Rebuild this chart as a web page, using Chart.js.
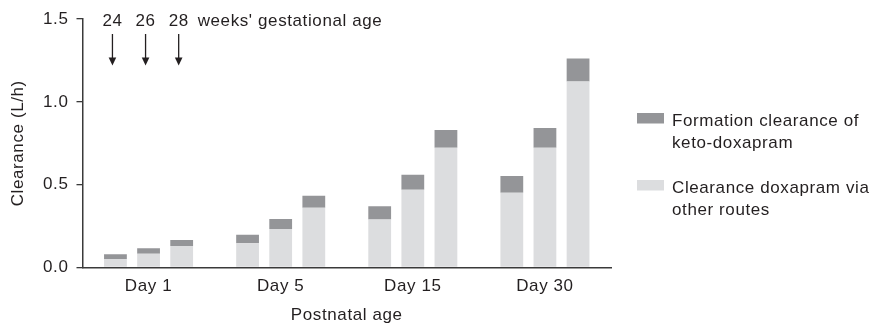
<!DOCTYPE html>
<html>
<head>
<meta charset="utf-8">
<script src="https://cdn.jsdelivr.net/npm/chart.js@4/dist/chart.umd.min.js"></script>
<style>
  html, body { margin: 0; padding: 0; background: #ffffff; }
  #wrap { width: 875px; height: 326px; position: relative; }
</style>
</head>
<body>
<div id="wrap"><canvas id="chart" width="875" height="326"></canvas></div>
<script>
// Postnatal age groups on the x axis, gestational ages within each group
const postnatalDays = ['Day 1', 'Day 5', 'Day 15', 'Day 30'];
const gestationalWeeks = ['24', '26', '28'];

// Clearance of doxapram via other routes (L/h)
const otherRoutes24 = [0.051, 0.146, 0.290, 0.451];
const otherRoutes26 = [0.083, 0.233, 0.469, 0.723];
const otherRoutes28 = [0.130, 0.360, 0.723, 1.122];

// Formation clearance of keto-doxapram (L/h), stacked on top
const ketoFormation24 = [0.029, 0.051, 0.079, 0.101];
const ketoFormation26 = [0.033, 0.060, 0.091, 0.119];
const ketoFormation28 = [0.036, 0.073, 0.107, 0.139];

const yTickValues = [0, 0.5, 1.0, 1.5];
const ketoLegendLines = ['Formation clearance of', 'keto-doxapram'];
const otherLegendLines = ['Clearance doxapram via', 'other routes'];
const gestationCaption = "weeks' gestational age";

const textColor = '#231f20';
const axisColor = '#3a3a3a';
const ketoColor = '#949598';
const otherColor = '#dcdddf';
const fontFamily = '"Liberation Sans", Arial, Helvetica, sans-serif';
const fontSize = 17;
const baseFont = { family: fontFamily, size: fontSize };
const letterSpacing = '0.6px';

Chart.defaults.font.family = fontFamily;
Chart.defaults.font.size = fontSize;
Chart.defaults.color = textColor;

const otherSeries = [otherRoutes24, otherRoutes26, otherRoutes28];
const ketoSeries = [ketoFormation24, ketoFormation26, ketoFormation28];

const datasets = [];
gestationalWeeks.forEach((wk, i) => {
  datasets.push({
    label: otherLegendLines.join(' '),
    data: otherSeries[i],
    stack: wk,
    backgroundColor: otherColor,
    borderWidth: 0
  });
  datasets.push({
    label: ketoLegendLines.join(' '),
    data: ketoSeries[i],
    stack: wk,
    backgroundColor: ketoColor,
    borderWidth: 0
  });
});

// Slightly wider tracking for all canvas text
const spacingPlugin = {
  id: 'spacing',
  beforeLayout(chart) { chart.ctx.letterSpacing = letterSpacing; },
  beforeDraw(chart) { chart.ctx.letterSpacing = letterSpacing; }
};

// Two-entry legend with wrapped labels, to the right of the plot
const sideLegend = {
  id: 'sideLegend',
  afterDraw(chart) {
    const { ctx, chartArea } = chart;
    const entries = [
      { color: ketoColor, lines: ketoLegendLines, y: 118 },
      { color: otherColor, lines: otherLegendLines, y: 185 }
    ];
    const sx = chartArea.right + 26;
    ctx.save();
    ctx.letterSpacing = letterSpacing;
    ctx.font = fontSize + 'px ' + fontFamily;
    ctx.textBaseline = 'middle';
    ctx.textAlign = 'left';
    entries.forEach(e => {
      ctx.fillStyle = e.color;
      ctx.fillRect(sx, e.y - 5, 27, 10.5);
      ctx.fillStyle = textColor;
      e.lines.forEach((line, k) => {
        ctx.fillText(line, sx + 35, e.y + 3 + k * 22);
      });
    });
    ctx.restore();
  }
};

// Gestational age markers with arrows over the Day 1 bars
const gestationMarkers = {
  id: 'gestationMarkers',
  afterDraw(chart) {
    const { ctx, chartArea } = chart;
    ctx.save();
    ctx.letterSpacing = letterSpacing;
    ctx.font = fontSize + 'px ' + fontFamily;
    ctx.fillStyle = textColor;
    ctx.strokeStyle = textColor;
    ctx.textBaseline = 'middle';
    let lastX = 0;
    gestationalWeeks.forEach((wk, i) => {
      const bar = chart.getDatasetMeta(i * 2 + 1).data[0];
      const x = bar.x - 3;
      const ty = chartArea.top + 2;
      ctx.textAlign = 'center';
      ctx.fillText(wk, x, ty);
      ctx.lineWidth = 1.3;
      ctx.beginPath();
      ctx.moveTo(x, ty + 13);
      ctx.lineTo(x, ty + 38);
      ctx.stroke();
      ctx.beginPath();
      ctx.moveTo(x - 3.8, ty + 36.5);
      ctx.lineTo(x + 3.8, ty + 36.5);
      ctx.lineTo(x, ty + 44.5);
      ctx.closePath();
      ctx.fill();
      lastX = x;
    });
    ctx.textAlign = 'left';
    ctx.fillText(gestationCaption, lastX + 19, chartArea.top + 2);
    ctx.restore();
  }
};

new Chart(document.getElementById('chart'), {
  type: 'bar',
  data: { labels: postnatalDays, datasets },
  plugins: [spacingPlugin, sideLegend, gestationMarkers],
  options: {
    responsive: false,
    animation: false,
    layout: { padding: { top: 19, right: 264, bottom: 0, left: 0 } },
    datasets: {
      bar: { categoryPercentage: 0.752, barPercentage: 0.688 }
    },
    plugins: {
      legend: { display: false },
      tooltip: { enabled: false }
    },
    scales: {
      x: {
        stacked: true,
        grid: { display: false, drawTicks: false },
        border: { display: true, color: axisColor, width: 1.5 },
        ticks: { padding: 8.5, color: textColor, font: baseFont },
        title: {
          display: true,
          text: 'Postnatal age',
          color: textColor,
          font: baseFont,
          padding: { top: 0, bottom: 0.5 }
        },
        afterFit(scale) { scale.height = 58.5; }
      },
      y: {
        stacked: true,
        min: 0,
        max: 1.5,
        afterBuildTicks(scale) { scale.ticks = yTickValues.map(v => ({ value: v })); },
        ticks: {
          padding: 8,
          color: textColor,
          font: baseFont,
          callback: v => Number(v).toFixed(1)
        },
        grid: {
          display: true,
          drawOnChartArea: false,
          drawTicks: true,
          tickLength: 6,
          color: axisColor,
          lineWidth: 1.3
        },
        border: { display: true, color: axisColor, width: 1.5 },
        title: {
          display: true,
          text: 'Clearance (L/h)',
          color: textColor,
          font: baseFont,
          padding: { top: 8.4, bottom: 0 }
        },
        afterFit(scale) { scale.width = 82.5; }
      }
    }
  }
});
</script>
</body>
</html>
